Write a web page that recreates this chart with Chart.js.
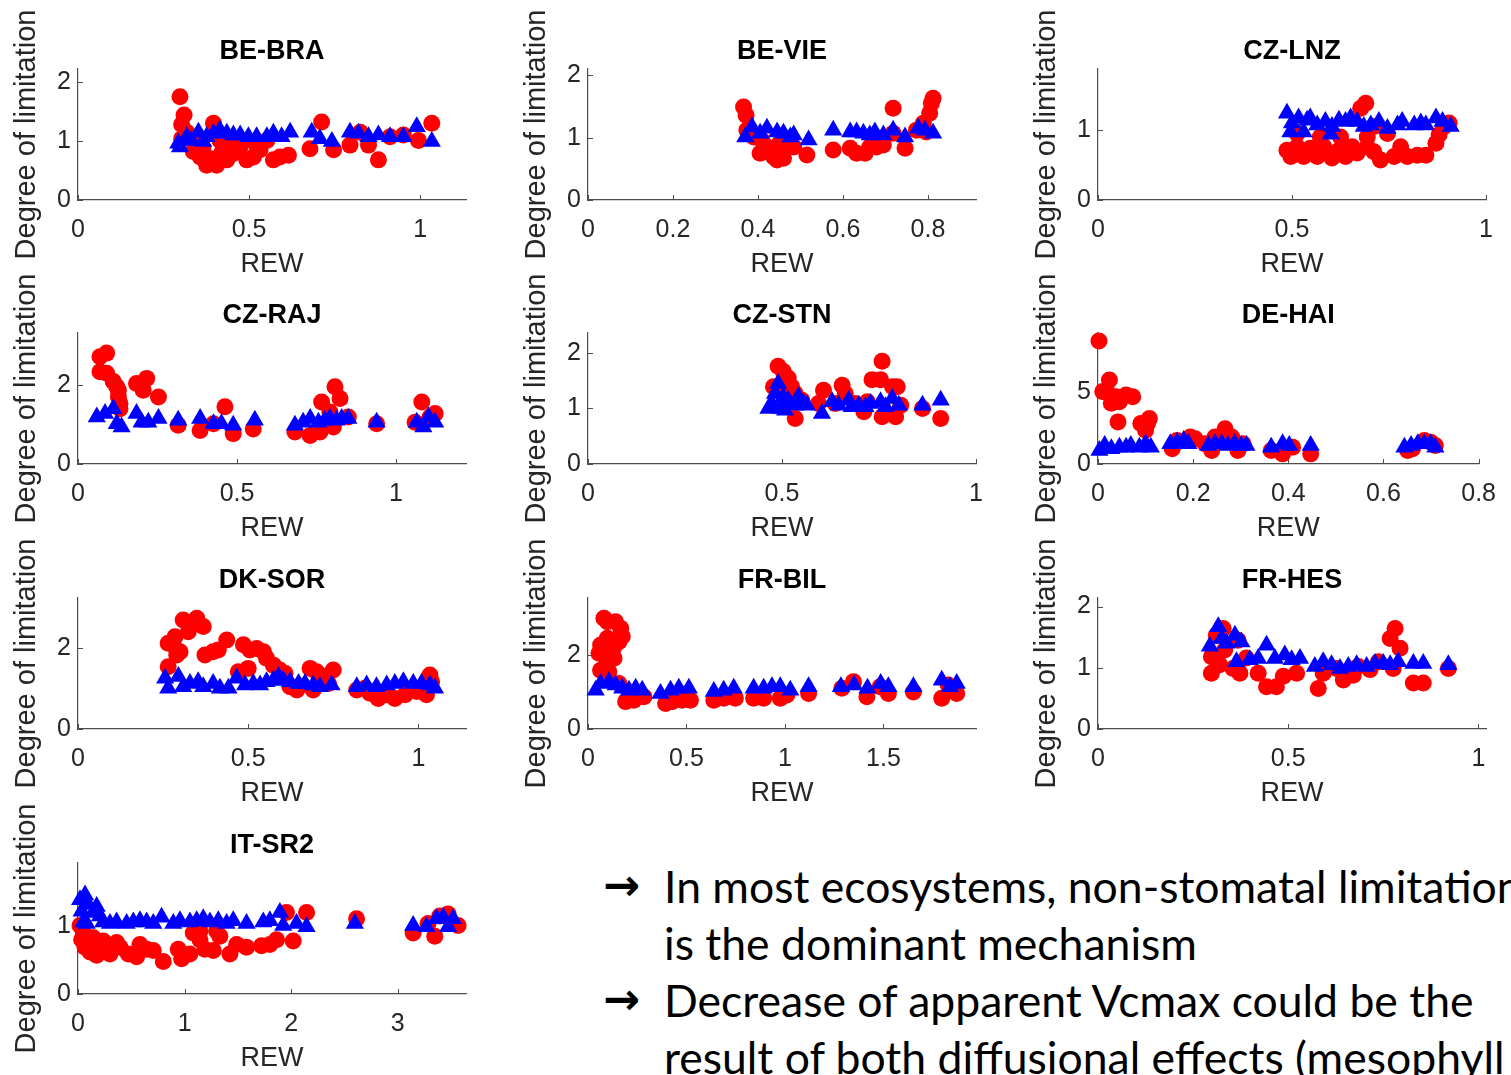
<!DOCTYPE html>
<html lang="en">
  <head>
    <meta charset="UTF-8" />
    <meta name="viewport" content="width=device-width, initial-scale=1.0" />
    <title>Degree of limitation vs REW</title>
    <script src="https://cdn.jsdelivr.net/npm/chart.js"></script>
    <style>
      body {
        margin: 0;
        width: 1511px;
        height: 1075px;
        overflow: hidden;
        background: #fff;
        position: relative;
      }
      canvas.panel {
        position: absolute;
      }
      .note {
        position: absolute;
        left: 0;
        white-space: nowrap;
        font-family: Lato, "Open Sans", sans-serif;
        font-size: 44.5px;
        line-height: 57px;
        color: #000;
      }
      .note .arrow {
        position: absolute;
        left: 603px;
        top: -1px;
        font-family: "DejaVu Sans", sans-serif;
        font-weight: bold;
        font-size: 44px;
      }
      .note .txt {
        position: absolute;
        left: 664px;
      }
    </style>
  </head>
  <body>
    <!-- Scatter panels are added here -->
    <div id="panels"></div>

    <!-- Notes (bottom right) -->
    <div class="note" style="top: 857px"><span class="arrow">→</span><span class="txt">In most ecosystems, non-stomatal limitation</span></div>
    <div class="note" style="top: 914px"><span class="txt">is the dominant mechanism</span></div>
    <div class="note" style="top: 971px"><span class="arrow">→</span><span class="txt">Decrease of apparent Vcmax could be the</span></div>
    <div class="note" style="top: 1028px"><span class="txt">result of both diffusional effects (mesophyll</span></div>

    <script>
      // ---- data (REW, degree of limitation) ----
      const sites = ["BE-BRA", "BE-VIE", "CZ-LNZ", "CZ-RAJ", "CZ-STN", "DE-HAI", "DK-SOR", "FR-BIL", "FR-HES", "IT-SR2"];

      const xMaxes = [1.134, 0.913, 1.0, 1.22, 1.0, 0.8, 1.14, 1.97, 1.02, 3.64];
      const yMaxes = [2.22, 2.1, 1.87, 3.32, 2.36, 9.05, 3.22, 3.54, 2.14, 1.93];

      const xTicks = [
        [0, 0.5, 1], [0, 0.2, 0.4, 0.6, 0.8], [0, 0.5, 1], [0, 0.5, 1], [0, 0.5, 1],
        [0, 0.2, 0.4, 0.6, 0.8], [0, 0.5, 1], [0, 0.5, 1, 1.5], [0, 0.5, 1], [0, 1, 2, 3]
      ];
      const yTicks = [
        [0, 1, 2], [0, 1, 2], [0, 1], [0, 2], [0, 1, 2],
        [0, 5], [0, 2], [0, 2], [0, 1, 2], [0, 1]
      ];

      // red circles
      const beBraCircles = [[0.298,1.75],[0.31,1.44],[0.303,1.28],[0.318,1.15],[0.303,1.04],[0.337,0.82],[0.345,0.95],[0.357,0.73],[0.365,0.88],[0.376,0.59],[0.39,0.7],[0.405,0.59],[0.396,1.3],[0.415,1.01],[0.42,0.8],[0.435,0.68],[0.445,0.95],[0.454,0.79],[0.474,0.9],[0.48,1.0],[0.493,0.68],[0.513,0.73],[0.52,0.95],[0.532,0.85],[0.552,1.01],[0.571,0.68],[0.59,0.73],[0.615,0.76],[0.678,0.87],[0.712,1.32],[0.747,0.85],[0.795,0.93],[0.825,1.15],[0.849,0.93],[0.878,0.68],[0.912,1.07],[0.951,1.1],[0.995,1.01],[1.034,1.3]];
      const beVieCircles = [[0.366,1.49],[0.372,1.36],[0.374,1.12],[0.39,1.01],[0.405,0.75],[0.41,0.95],[0.421,0.85],[0.437,0.69],[0.445,0.64],[0.45,0.9],[0.46,0.67],[0.468,0.85],[0.484,0.85],[0.515,0.72],[0.577,0.8],[0.617,0.83],[0.632,0.75],[0.652,0.75],[0.663,0.85],[0.679,0.85],[0.695,0.88],[0.718,1.47],[0.718,1.07],[0.746,0.83],[0.773,1.12],[0.789,1.23],[0.796,1.09],[0.804,1.39],[0.808,1.55],[0.812,1.63]];
      const czLnzCircles = [[0.487,0.71],[0.497,0.62],[0.513,0.76],[0.513,0.95],[0.53,0.62],[0.547,0.74],[0.565,0.62],[0.573,0.9],[0.582,0.76],[0.603,0.6],[0.621,0.71],[0.625,0.9],[0.638,0.62],[0.655,0.76],[0.668,0.67],[0.677,1.31],[0.69,1.38],[0.694,0.76],[0.694,0.9],[0.711,0.69],[0.711,1.05],[0.728,0.57],[0.746,0.95],[0.763,0.62],[0.78,0.76],[0.797,0.62],[0.823,0.64],[0.845,0.64],[0.871,0.81],[0.879,0.93],[0.892,1.05],[0.905,1.1]];
      const czRajCircles = [[0.069,2.72],[0.09,2.81],[0.069,2.34],[0.09,2.3],[0.111,2.09],[0.122,1.96],[0.127,1.87],[0.127,1.7],[0.132,1.53],[0.132,1.4],[0.184,2.04],[0.205,1.87],[0.216,2.17],[0.253,1.7],[0.315,0.98],[0.384,0.85],[0.426,1.02],[0.462,1.45],[0.488,0.77],[0.551,0.89],[0.682,0.81],[0.73,0.72],[0.761,0.81],[0.766,1.57],[0.792,1.32],[0.803,0.94],[0.808,1.96],[0.824,1.66],[0.85,1.19],[0.939,1.02],[1.06,1.06],[1.081,1.57],[1.107,1.19],[1.123,1.28]];
      const czStnCircles = [[0.478,1.39],[0.49,1.76],[0.503,1.67],[0.508,1.15],[0.516,1.55],[0.525,1.39],[0.534,1.27],[0.534,0.82],[0.551,1.15],[0.594,1.09],[0.607,1.33],[0.637,1.09],[0.655,1.42],[0.663,1.27],[0.689,1.09],[0.711,0.94],[0.72,1.12],[0.732,1.52],[0.754,1.52],[0.758,1.85],[0.758,0.85],[0.785,1.39],[0.793,0.85],[0.797,1.39],[0.806,1.06],[0.862,1.0],[0.909,0.82]];
      const deHaiCircles = [[0.002,8.49],[0.01,5.0],[0.024,5.81],[0.021,4.88],[0.028,4.19],[0.038,4.65],[0.045,4.3],[0.059,4.77],[0.073,4.65],[0.042,2.91],[0.09,2.79],[0.1,2.33],[0.104,2.79],[0.108,3.14],[0.156,1.05],[0.166,1.63],[0.194,1.86],[0.204,1.74],[0.225,1.4],[0.239,0.93],[0.246,1.86],[0.267,2.44],[0.281,1.86],[0.294,0.93],[0.305,1.4],[0.364,0.93],[0.388,0.7],[0.409,1.16],[0.447,0.7],[0.651,0.93],[0.661,1.05],[0.686,1.63],[0.699,1.51],[0.709,1.28]];
      const dkSorCircles = [[0.265,1.53],[0.265,2.11],[0.28,2.07],[0.285,2.27],[0.29,1.82],[0.3,1.9],[0.309,2.68],[0.324,2.39],[0.334,2.56],[0.349,2.72],[0.368,2.52],[0.373,1.82],[0.397,1.9],[0.412,1.94],[0.437,2.19],[0.471,1.41],[0.486,2.07],[0.5,1.49],[0.505,1.94],[0.525,1.98],[0.545,1.9],[0.554,1.74],[0.574,1.57],[0.593,1.45],[0.608,1.37],[0.623,1.04],[0.643,0.96],[0.682,1.49],[0.691,0.96],[0.701,1.41],[0.711,1.33],[0.736,1.12],[0.75,1.45],[0.819,0.96],[0.843,1.0],[0.858,0.88],[0.882,0.75],[0.907,0.84],[0.931,0.75],[0.961,0.84],[0.995,0.92],[1.024,0.84],[1.034,1.33],[1.039,1.16]];
      const frBilCircles = [[0.081,2.99],[0.098,2.9],[0.14,2.9],[0.166,2.72],[0.174,2.5],[0.157,2.36],[0.132,2.23],[0.098,2.45],[0.064,2.27],[0.056,2.05],[0.081,2.0],[0.098,1.77],[0.132,1.91],[0.123,2.09],[0.064,1.59],[0.106,1.55],[0.157,1.23],[0.191,0.74],[0.233,0.78],[0.284,0.87],[0.394,0.69],[0.427,0.74],[0.478,0.78],[0.52,0.78],[0.639,0.78],[0.689,0.83],[0.748,0.83],[0.841,0.83],[0.892,0.83],[0.976,0.83],[1.01,0.92],[1.12,0.96],[1.289,1.1],[1.348,1.28],[1.416,0.87],[1.483,1.14],[1.525,0.96],[1.652,1.0],[1.796,0.83],[1.829,1.19],[1.872,0.96]];
      const frHesCircles = [[0.298,0.91],[0.298,1.18],[0.311,1.53],[0.329,1.64],[0.333,1.29],[0.32,1.05],[0.355,0.99],[0.368,1.45],[0.373,0.91],[0.39,1.16],[0.421,0.91],[0.443,0.69],[0.469,0.69],[0.487,0.86],[0.522,0.91],[0.579,0.66],[0.592,0.91],[0.627,0.99],[0.645,0.8],[0.671,0.88],[0.684,1.02],[0.715,0.97],[0.737,1.1],[0.768,1.48],[0.776,0.99],[0.781,1.64],[0.794,1.32],[0.829,0.75],[0.855,0.75],[0.921,0.99]];
      const itSr2Circles = [[0.019,1.01],[0.034,0.8],[0.05,0.9],[0.066,0.69],[0.112,0.62],[0.144,0.83],[0.175,0.57],[0.206,0.64],[0.237,0.78],[0.3,0.59],[0.362,0.76],[0.394,0.69],[0.472,0.59],[0.55,0.55],[0.581,0.73],[0.644,0.66],[0.706,0.64],[0.8,0.48],[0.941,0.66],[0.972,0.52],[1.05,0.59],[1.081,0.9],[1.144,0.8],[1.144,0.93],[1.19,0.66],[1.269,0.64],[1.3,0.93],[1.331,0.85],[1.425,0.59],[1.488,0.73],[1.581,0.69],[1.722,0.71],[1.8,0.73],[1.863,0.8],[1.956,1.2],[2.019,0.78],[2.144,1.2],[2.613,1.11],[3.144,0.9],[3.284,1.04],[3.347,0.85],[3.394,1.15],[3.472,1.18],[3.566,1.01]];

      // blue triangles
      const beBraTriangles = [[0.293,0.96],[0.298,0.9],[0.318,1.07],[0.332,1.01],[0.352,1.15],[0.366,0.99],[0.376,1.07],[0.396,1.13],[0.415,1.18],[0.435,1.13],[0.454,1.1],[0.474,1.1],[0.498,1.07],[0.522,1.07],[0.552,1.07],[0.571,1.13],[0.595,1.07],[0.62,1.15],[0.683,1.15],[0.707,1.04],[0.742,0.99],[0.795,1.15],[0.82,1.13],[0.849,1.07],[0.878,1.1],[0.912,1.07],[0.951,1.07],[0.99,1.24],[1.034,0.99]];
      const beVieTriangles = [[0.37,1.01],[0.386,1.17],[0.405,1.07],[0.421,1.15],[0.445,1.09],[0.46,1.07],[0.476,1.01],[0.484,1.04],[0.519,0.96],[0.577,1.12],[0.617,1.09],[0.632,1.09],[0.648,1.07],[0.663,1.04],[0.675,1.09],[0.695,1.04],[0.718,1.12],[0.746,1.01],[0.777,1.15],[0.793,1.12],[0.812,1.07]];
      const czLnzTriangles = [[0.487,1.24],[0.496,0.97],[0.5,1.1],[0.517,1.17],[0.53,0.97],[0.539,1.14],[0.547,1.17],[0.565,1.07],[0.586,1.12],[0.6,0.94],[0.603,1.05],[0.621,1.14],[0.638,1.12],[0.651,1.17],[0.668,1.12],[0.685,1.05],[0.703,1.07],[0.724,1.12],[0.746,1.02],[0.772,1.07],[0.784,1.12],[0.815,1.07],[0.832,1.1],[0.845,1.07],[0.871,1.17],[0.888,1.12],[0.909,1.05]];
      const czRajTriangles = [[0.059,1.19],[0.085,1.28],[0.111,1.4],[0.122,1.02],[0.137,0.94],[0.184,1.28],[0.2,1.06],[0.221,1.06],[0.253,1.15],[0.315,1.11],[0.384,1.15],[0.426,1.02],[0.451,1.02],[0.488,0.98],[0.556,1.11],[0.682,0.98],[0.708,1.06],[0.73,1.15],[0.756,1.06],[0.776,1.11],[0.792,1.15],[0.813,1.11],[0.829,1.15],[0.85,1.15],[0.939,1.06],[1.065,1.06],[1.086,0.94],[1.102,1.19],[1.123,1.06]];
      const czStnTriangles = [[0.465,1.0],[0.473,1.09],[0.482,1.27],[0.49,1.45],[0.495,1.0],[0.503,1.21],[0.508,0.97],[0.516,1.15],[0.534,1.06],[0.542,1.21],[0.555,1.09],[0.564,1.06],[0.603,0.91],[0.629,1.12],[0.646,1.06],[0.672,1.15],[0.68,1.03],[0.698,1.06],[0.715,1.03],[0.728,1.09],[0.754,1.12],[0.767,1.03],[0.784,1.18],[0.801,1.06],[0.862,1.06],[0.909,1.15]];
      const deHaiTriangles = [[0.003,0.93],[0.014,1.28],[0.028,1.05],[0.045,1.16],[0.059,1.16],[0.069,1.28],[0.087,1.16],[0.1,1.4],[0.111,1.16],[0.152,1.4],[0.166,1.51],[0.18,1.63],[0.19,1.4],[0.232,1.28],[0.246,1.4],[0.26,1.4],[0.273,1.28],[0.287,1.4],[0.301,1.28],[0.312,1.28],[0.364,1.16],[0.388,1.4],[0.402,1.28],[0.447,1.28],[0.644,1.16],[0.658,1.28],[0.672,1.4],[0.686,1.4],[0.699,1.4],[0.709,1.16]];
      const dkSorTriangles = [[0.256,1.25],[0.265,1.0],[0.295,1.29],[0.309,1.04],[0.329,1.12],[0.353,1.16],[0.368,1.04],[0.397,1.12],[0.417,1.0],[0.442,1.0],[0.466,1.25],[0.491,1.08],[0.515,1.12],[0.535,1.08],[0.554,1.16],[0.574,1.2],[0.589,1.29],[0.603,1.2],[0.623,1.16],[0.648,1.12],[0.667,1.12],[0.691,1.08],[0.711,1.04],[0.745,1.08],[0.819,1.04],[0.848,1.08],[0.877,1.04],[0.907,1.08],[0.931,1.12],[0.956,1.16],[0.985,1.12],[1.009,1.12],[1.034,1.08],[1.049,1.0]];
      const frBilTriangles = [[0.039,1.05],[0.064,1.23],[0.106,1.28],[0.14,1.19],[0.174,1.1],[0.208,1.05],[0.242,1.1],[0.275,1.05],[0.368,0.96],[0.419,1.05],[0.461,1.1],[0.512,1.1],[0.639,1.01],[0.689,1.05],[0.74,1.1],[0.841,1.1],[0.892,1.1],[0.934,1.14],[0.976,1.14],[1.027,1.05],[1.12,1.14],[1.284,1.14],[1.351,1.19],[1.419,1.1],[1.486,1.23],[1.525,1.14],[1.652,1.14],[1.796,1.32],[1.838,1.14],[1.872,1.23]];
      const frHesTriangles = [[0.294,1.35],[0.316,1.67],[0.325,1.48],[0.338,1.4],[0.36,1.53],[0.364,1.1],[0.377,1.42],[0.399,1.13],[0.421,1.15],[0.443,1.37],[0.465,1.15],[0.491,1.21],[0.509,1.13],[0.531,1.15],[0.57,1.02],[0.592,1.1],[0.614,1.05],[0.636,0.99],[0.658,1.02],[0.68,1.05],[0.706,1.02],[0.728,1.07],[0.75,1.07],[0.768,1.05],[0.789,1.1],[0.829,1.07],[0.855,1.07],[0.921,1.05]];
      const itSr2Triangles = [[0.019,1.39],[0.034,1.22],[0.05,1.06],[0.066,1.46],[0.081,1.04],[0.097,1.32],[0.144,1.2],[0.175,1.29],[0.206,1.15],[0.237,1.06],[0.3,1.04],[0.362,1.06],[0.456,1.04],[0.519,1.06],[0.581,1.08],[0.644,1.06],[0.706,1.04],[0.784,1.13],[0.894,1.04],[0.956,1.08],[1.05,1.06],[1.113,1.08],[1.175,1.11],[1.238,1.06],[1.316,1.08],[1.394,1.04],[1.456,1.08],[1.581,1.04],[1.738,1.06],[1.8,1.08],[1.894,1.2],[1.925,1.01],[2.05,1.04],[2.144,0.99],[2.597,1.04],[3.144,1.01],[3.269,0.99],[3.363,1.11],[3.425,1.13],[3.472,0.99],[3.519,1.11]];

      const circleSets = [beBraCircles, beVieCircles, czLnzCircles, czRajCircles, czStnCircles, deHaiCircles, dkSorCircles, frBilCircles, frHesCircles, itSr2Circles];
      const triangleSets = [beBraTriangles, beVieTriangles, czLnzTriangles, czRajTriangles, czStnTriangles, deHaiTriangles, dkSorTriangles, frBilTriangles, frHesTriangles, itSr2Triangles];

      // ---- layout / style ----
      const colLefts = [78, 588, 1098]; // plot area left edge
      const rowTops = [69, 333, 598, 863]; // plot area top edge
      const plotW = 388;
      const plotH = 131;
      const padL = 78, padT = 68, padR = 25, padB = 90;

      const axisColor = "#4d4d4d";
      const textColor = "#262626";
      const fontFamily = "'Liberation Sans', Arial, Helvetica, sans-serif";

      // MATLAB-style tick marks pointing into the plot
      const innerTicks = {
        id: "innerTicks",
        beforeDatasetsDraw(chart) {
          const { ctx, chartArea, scales } = chart;
          ctx.save();
          ctx.strokeStyle = axisColor;
          ctx.lineWidth = 1;
          scales.x.ticks.forEach((t) => {
            const px = Math.round(scales.x.getPixelForValue(t.value)) + 0.5;
            ctx.beginPath();
            ctx.moveTo(px, chartArea.bottom);
            ctx.lineTo(px, chartArea.bottom - 5);
            ctx.stroke();
          });
          scales.y.ticks.forEach((t) => {
            const py = Math.round(scales.y.getPixelForValue(t.value)) + 0.5;
            ctx.beginPath();
            ctx.moveTo(chartArea.left, py);
            ctx.lineTo(chartArea.left + 5, py);
            ctx.stroke();
          });
          ctx.restore();
        },
      };

      const toPoints = (arr) => arr.map(([x, y]) => ({ x, y }));

      sites.forEach((name, i) => {
        const col = i % 3;
        const row = Math.floor(i / 3);
        const canvas = document.createElement("canvas");
        canvas.className = "panel";
        canvas.width = padL + plotW + padR;
        canvas.height = padT + plotH + padB;
        canvas.style.left = colLefts[col] - padL + "px";
        canvas.style.top = rowTops[row] - padT + "px";
        document.getElementById("panels").appendChild(canvas);

        new Chart(canvas, {
          type: "scatter",
          data: {
            datasets: [
              {
                label: "circles",
                data: toPoints(circleSets[i]),
                pointStyle: "circle",
                pointRadius: 8.5,
                backgroundColor: "#ff0000",
                borderWidth: 0,
                order: 1,
                clip: false,
              },
              {
                label: "triangles",
                data: toPoints(triangleSets[i]),
                pointStyle: "triangle",
                pointRadius: 10.5,
                backgroundColor: "#0000ff",
                borderWidth: 0,
                order: 0,
                clip: false,
              },
            ],
          },
          options: {
            responsive: false,
            animation: false,
            events: [],
            layout: { padding: { left: 0, right: padR, top: 0, bottom: 0 } },
            plugins: {
              legend: { display: false },
              tooltip: { enabled: false },
              title: {
                display: true,
                fullSize: false,
                text: name,
                color: "#000",
                font: { family: fontFamily, size: 27, weight: "bold" },
                padding: { top: 34.8, bottom: 0.8 },
              },
            },
            scales: {
              x: {
                type: "linear",
                min: 0,
                max: xMaxes[i],
                afterBuildTicks: (s) => {
                  s.ticks = xTicks[i].map((v) => ({ value: v }));
                },
                afterFit: (s) => {
                  s.height = padB;
                },
                grid: { display: false, drawTicks: false },
                border: { display: true, color: axisColor, width: 1.2 },
                ticks: {
                  padding: 15,
                  color: textColor,
                  font: { family: fontFamily, size: 25 },
                  maxRotation: 0,
                  autoSkip: false,
                  callback: (v) => String(v),
                },
                title: {
                  display: true,
                  text: "REW",
                  color: textColor,
                  font: { family: fontFamily, size: 27 },
                  padding: { top: 0, bottom: 8.8 },
                },
              },
              y: {
                type: "linear",
                min: 0,
                max: yMaxes[i],
                afterBuildTicks: (s) => {
                  s.ticks = yTicks[i].map((v) => ({ value: v }));
                },
                afterFit: (s) => {
                  s.width = padL;
                },
                grid: { display: false, drawTicks: false },
                border: { display: true, color: axisColor, width: 1.2 },
                ticks: {
                  padding: 7,
                  color: textColor,
                  font: { family: fontFamily, size: 25 },
                  autoSkip: false,
                  callback: (v) => String(v),
                },
                title: {
                  display: true,
                  text: "Degree of limitation",
                  color: textColor,
                  font: { family: fontFamily, size: 29 },
                  padding: { top: 9.1, bottom: 0 },
                },
              },
            },
          },
          plugins: [innerTicks],
        });
      });
    </script>
  </body>
</html>
